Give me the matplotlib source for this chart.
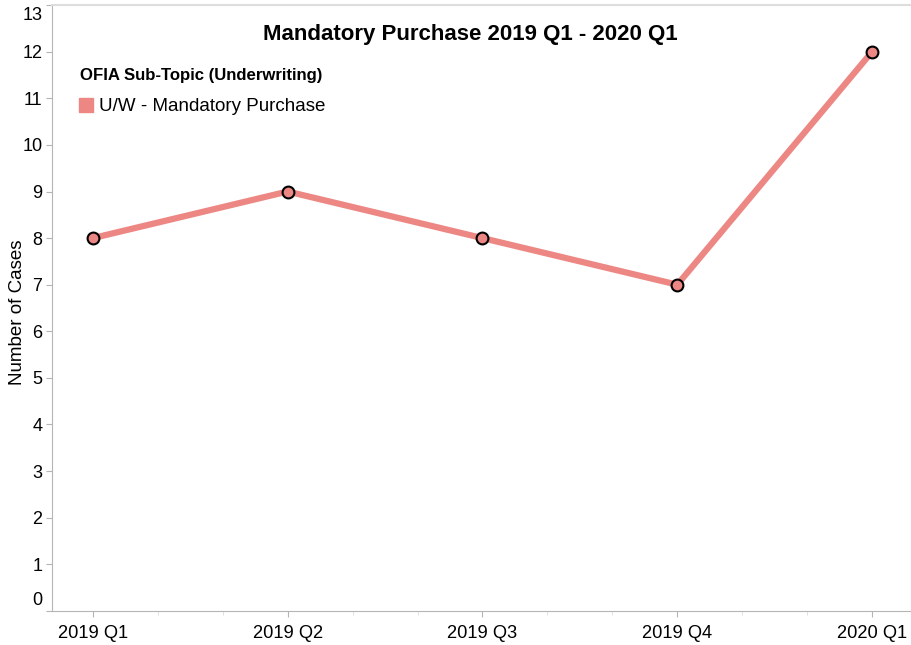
import matplotlib
matplotlib.use("Agg")
import matplotlib.pyplot as plt
import matplotlib.transforms as mtransforms
from matplotlib import font_manager
from matplotlib.lines import Line2D
import numpy as np

plt.rcParams['font.family'] = ['Liberation Sans', 'DejaVu Sans']

quarters = ['2019 Q1', '2019 Q2', '2019 Q3', '2019 Q4', '2020 Q1']
cases = [8, 9, 8, 7, 12]
series_name = 'U/W - Mandatory Purchase'
legend_title = 'OFIA Sub-Topic (Underwriting)'
title = 'Mandatory Purchase 2019 Q1 - 2020 Q1'

line_color = '#ec8783'
spine_color = '#b5b5b5'

# narrow face for the condensed-looking labels, if it is there
try:
    font_manager.findfont('Liberation Sans Narrow', fallback_to_default=False)
    narrow = 'Liberation Sans Narrow'
    nscale = 1.0
except Exception:
    narrow = 'Liberation Sans'
    nscale = 0.85

fig = plt.figure(figsize=(9.12, 6.45), dpi=100)
ax = fig.add_axes([0.057, 0.053, 0.943, 0.939])

x = np.arange(len(quarters))
ax.plot(x, cases, color=line_color, lw=4.5, solid_capstyle='round', zorder=2)
ax.plot(x, cases, 'o', ms=8.5, mfc=line_color, mec='black', mew=1.5, zorder=3)

ax.set_xlim(-0.21, len(quarters) - 1 + 0.205)
ax.set_ylim(0, 13)
ax.set_xticks(x)
ax.set_xticklabels(quarters, fontsize=15.5 * nscale, family=narrow)
ax.set_xticks(np.arange(-0.0, len(quarters) - 1, 1 / 3), minor=True)
ax.set_yticks(range(0, 14))
ax.set_yticklabels([str(v) for v in range(0, 14)], fontsize=13)

ax.tick_params(axis='y', length=4, color=spine_color, pad=3)
ax.tick_params(axis='x', which='major', length=4, color=spine_color, pad=6)
ax.tick_params(axis='x', which='minor', length=3, color='#dddddd')

# nudge end labels so they stay inside like the original
for lab in ax.get_yticklabels():
    if lab.get_text() == '0':
        lab.set_transform(lab.get_transform() + mtransforms.ScaledTranslation(0, 9 / 72, fig.dpi_scale_trans))
    if lab.get_text() == '13':
        lab.set_transform(lab.get_transform() + mtransforms.ScaledTranslation(0, -6 / 72, fig.dpi_scale_trans))

for s in ['left', 'bottom']:
    ax.spines[s].set_color(spine_color)
ax.spines['top'].set_color('#dddddd')
ax.spines['top'].set_linewidth(1.5)
ax.spines['right'].set_visible(False)

fig.text(18 / 912, 1 - 312 / 645, 'Number of Cases', rotation=90, ha='center', va='center',
         fontsize=13.5, family=narrow if nscale == 1.0 else 'Liberation Sans')
ax.set_title(title, fontsize=16, fontweight='bold', x=0.487, y=0.928)

handle = Line2D([], [], ls='none', marker='s', ms=10, mfc=line_color, mec=line_color)
leg = ax.legend([handle], [series_name], title=legend_title, loc='upper left',
                bbox_to_anchor=(0.033, 0.896), frameon=False, fontsize=13.5,
                title_fontproperties={'weight': 'bold', 'size': 14.2 * nscale, 'family': narrow},
                handlelength=0.6, handletextpad=0.4, borderaxespad=0, borderpad=0,
                labelspacing=0.8)
leg._legend_box.align = 'left'

fig.savefig('out.png', dpi=100)
